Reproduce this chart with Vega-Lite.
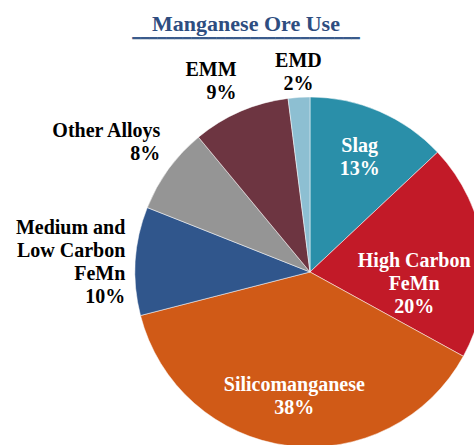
{
  "$schema": "https://vega.github.io/schema/vega-lite/v6.json",
  "autosize": "none",
  "padding": {"left": 0, "top": 40, "right": 0, "bottom": 0},
  "width": 620,
  "height": 464,
  "background": "white",
  "config": {"view": {"stroke": null}},
  "title": {
    "text": "Manganese Ore Use",
    "subtitle": "━━━━━━━━━━━━━━━━━━━━━━━━━━━",
    "anchor": "start",
    "frame": "group",
    "align": "center",
    "dx": 246,
    "dy": 9,
    "font": "Liberation Serif",
    "fontSize": 22,
    "fontWeight": "bold",
    "color": "#2e4d80",
    "subtitleFont": "DejaVu Sans",
    "subtitleFontSize": 14,
    "subtitleColor": "#3a5b8c",
    "subtitlePadding": -4,
    "offset": 2
  },
  "data": {
    "values": [
      {"use": "Slag", "pct": 13, "order": 1, "label": "Slag\n13%"},
      {"use": "High Carbon FeMn", "pct": 20, "order": 2, "label": "High Carbon\nFeMn\n20%"},
      {"use": "Silicomanganese", "pct": 38, "order": 3, "label": "Silicomanganese\n38%"},
      {"use": "Medium and Low Carbon FeMn", "pct": 10, "order": 4, "label": "Medium and\nLow Carbon\nFeMn\n10%"},
      {"use": "Other Alloys", "pct": 8, "order": 5, "label": "Other Alloys\n8%"},
      {"use": "EMM", "pct": 9, "order": 6, "label": "EMM\n9%"},
      {"use": "EMD", "pct": 2, "order": 7, "label": "EMD\n2%"}
    ]
  },
  "encoding": {
    "theta": {"field": "pct", "type": "quantitative", "stack": true},
    "order": {"field": "order", "type": "quantitative"}
  },
  "layer": [
    {
      "mark": {"type": "arc", "outerRadius": 175, "stroke": "white", "strokeWidth": 0.5},
      "encoding": {
        "color": {
          "field": "use",
          "type": "nominal",
          "scale": {
            "domain": ["Slag", "High Carbon FeMn", "Silicomanganese", "Medium and Low Carbon FeMn", "Other Alloys", "EMM", "EMD"],
            "range": ["#2a8fa9", "#c21a28", "#d05a17", "#30568c", "#959595", "#6d3541", "#8dbfd2"]
          },
          "legend": null
        }
      }
    },
    {
      "mark": {"type": "text", "radius": 125, "dy": -11, "align": "center", "baseline": "middle", "lineBreak": "\n", "lineHeight": 23, "font": "Liberation Serif", "fontSize": 20, "fontWeight": "bold", "color": "white"},
      "encoding": {
        "detail": {"field": "use"},
        "text": {"condition": {"test": "datum.use == 'Slag' || datum.use == 'Silicomanganese'", "field": "label"}, "value": ""}
      }
    },
    {
      "mark": {"type": "text", "radius": 105, "dy": 2, "align": "center", "baseline": "middle", "lineBreak": "\n", "lineHeight": 23, "font": "Liberation Serif", "fontSize": 20, "fontWeight": "bold", "color": "white"},
      "encoding": {
        "detail": {"field": "use"},
        "text": {"condition": {"test": "datum.use == 'High Carbon FeMn'", "field": "label"}, "value": ""}
      }
    },
    {
      "mark": {"type": "text", "radius": 185, "dy": -32, "align": "right", "baseline": "middle", "lineBreak": "\n", "lineHeight": 23, "font": "Liberation Serif", "fontSize": 20, "fontWeight": "bold", "color": "black"},
      "encoding": {
        "detail": {"field": "use"},
        "text": {"condition": {"test": "datum.use == 'Medium and Low Carbon FeMn'", "field": "label"}, "value": ""}
      }
    },
    {
      "mark": {"type": "text", "radius": 185, "dy": -22, "align": "right", "baseline": "bottom", "lineBreak": "\n", "lineHeight": 23, "font": "Liberation Serif", "fontSize": 20, "fontWeight": "bold", "color": "black"},
      "encoding": {
        "detail": {"field": "use"},
        "text": {"condition": {"test": "datum.use == 'Other Alloys' || datum.use == 'EMM'", "field": "label"}, "value": ""}
      }
    },
    {
      "mark": {"type": "text", "radius": 185, "dy": -16, "align": "center", "baseline": "bottom", "lineBreak": "\n", "lineHeight": 23, "font": "Liberation Serif", "fontSize": 20, "fontWeight": "bold", "color": "black"},
      "encoding": {
        "detail": {"field": "use"},
        "text": {"condition": {"test": "datum.use == 'EMD'", "field": "label"}, "value": ""}
      }
    }
  ]
}
